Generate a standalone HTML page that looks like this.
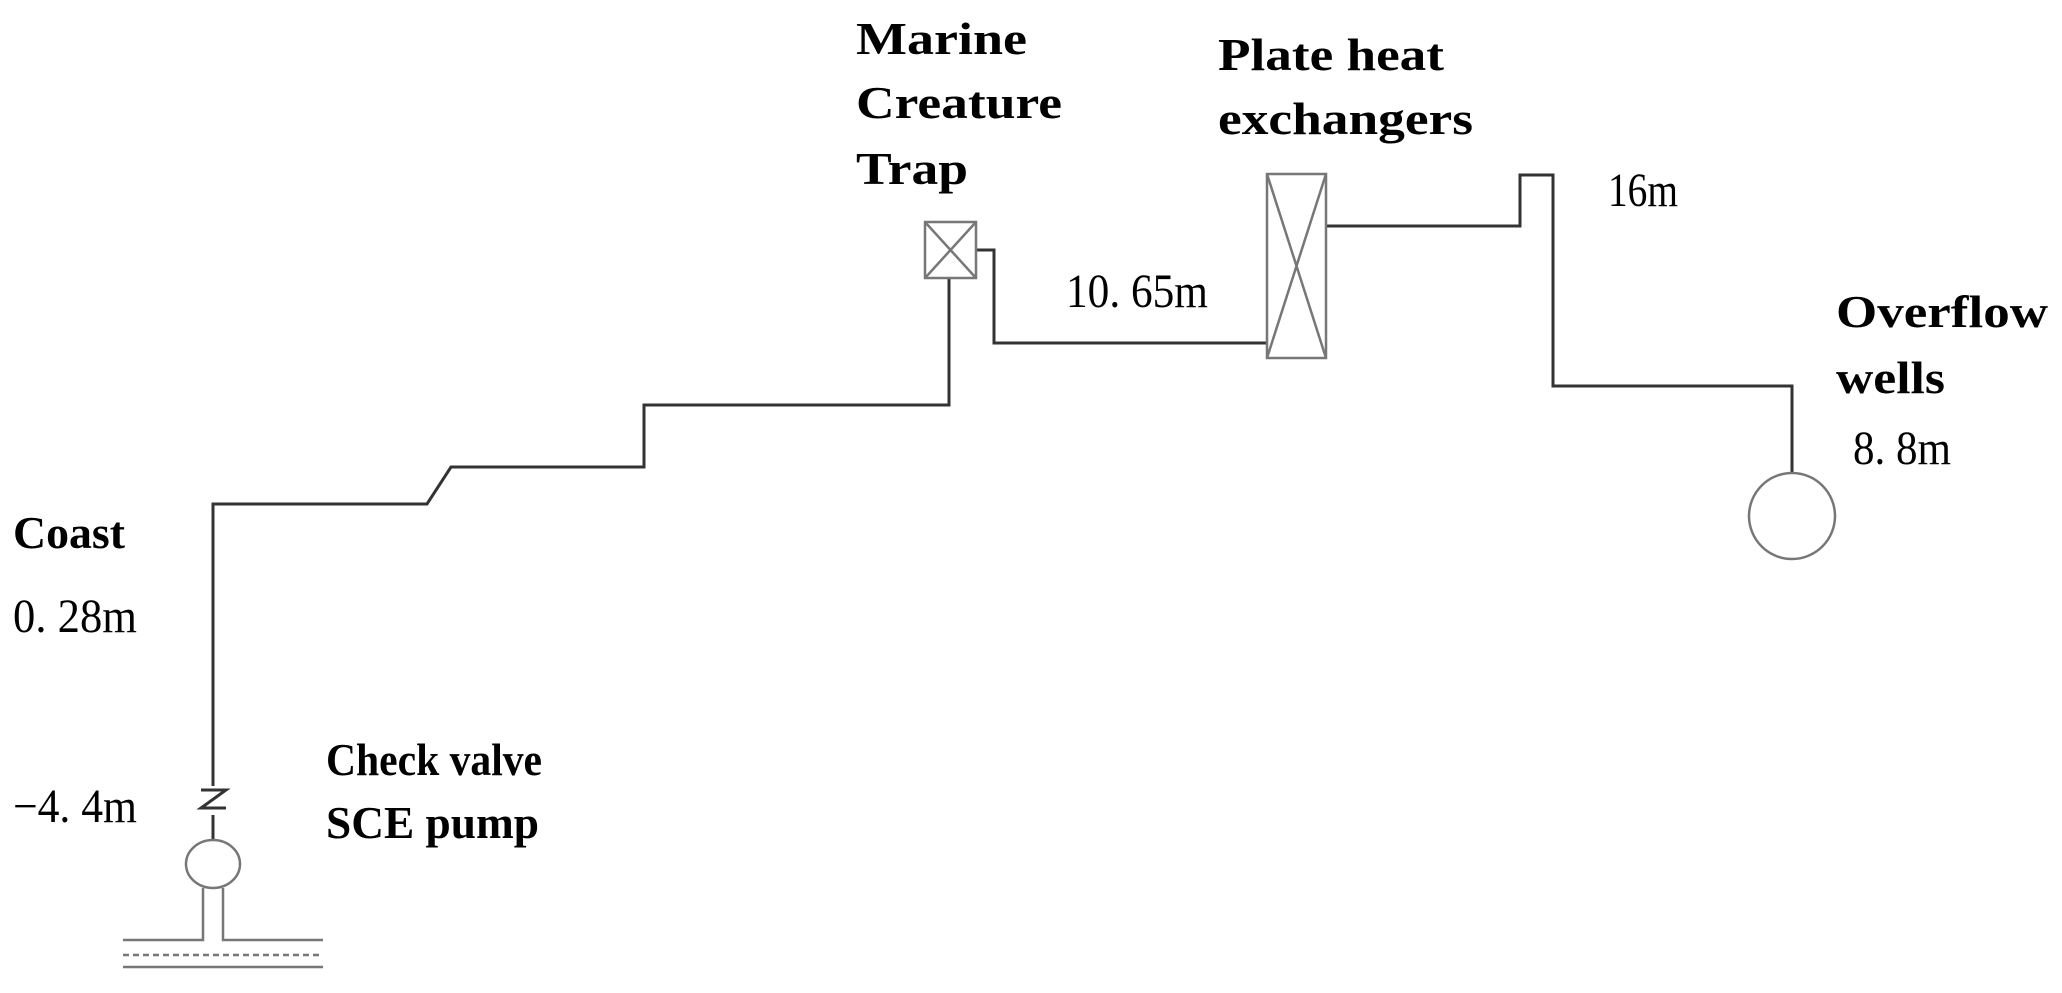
<!DOCTYPE html>
<html><head><meta charset="utf-8"><style>
html,body{margin:0;padding:0;background:#fff;}
svg{display:block}
.b{font-family:"Liberation Serif",serif;font-weight:bold;font-size:46px;fill:#000}
.n{font-family:"Liberation Serif",serif;font-size:48px;fill:#000}
</style></head><body>
<svg width="2062" height="993" viewBox="0 0 2062 993" xmlns="http://www.w3.org/2000/svg">
<g fill="none" stroke="#333" stroke-width="3">
<polyline points="213,786 213,504 427,504 451,467 644,467 644,405 949,405 949,278"/>
<polyline points="976,250 994,250 994,343 1267,343"/>
<polyline points="1326,226 1520,226 1520,175 1553,175 1553,386 1792,386 1792,473"/>
<line x1="213" y1="815" x2="213" y2="840"/>
<polyline points="201,790 226,790 201,808 226,808"/>
</g>
<g fill="none" stroke="#777" stroke-width="2.5">
<rect x="925" y="222" width="51" height="56"/>
<line x1="925" y1="222" x2="976" y2="278"/><line x1="976" y1="222" x2="925" y2="278"/>
<rect x="1267" y="174" width="59" height="184"/>
<line x1="1267" y1="174" x2="1326" y2="358"/><line x1="1326" y1="174" x2="1267" y2="358"/>
<ellipse cx="1792" cy="516" rx="43" ry="43"/>
<ellipse cx="213" cy="864" rx="27" ry="24"/>
<polyline points="203,888 203,940 123,940"/>
<polyline points="223,888 223,940 323,940"/>
<line x1="123" y1="955" x2="323" y2="955" stroke-dasharray="6,4"/>
<line x1="123" y1="967" x2="323" y2="967"/>
</g>
<g lengthAdjust="spacingAndGlyphs">
<text class="b" x="856" y="54" textLength="171" lengthAdjust="spacingAndGlyphs">Marine</text>
<text class="b" x="856" y="118" textLength="206" lengthAdjust="spacingAndGlyphs">Creature</text>
<text class="b" x="856" y="184" textLength="112" lengthAdjust="spacingAndGlyphs">Trap</text>
<text class="b" x="1218" y="70" textLength="226" lengthAdjust="spacingAndGlyphs">Plate heat</text>
<text class="b" x="1218" y="134" textLength="255" lengthAdjust="spacingAndGlyphs">exchangers</text>
<text class="b" x="1836" y="327" textLength="212" lengthAdjust="spacingAndGlyphs">Overflow</text>
<text class="b" x="1836" y="393" textLength="109" lengthAdjust="spacingAndGlyphs">wells</text>
<text class="b" x="13" y="548" textLength="112" lengthAdjust="spacingAndGlyphs">Coast</text>
<text class="b" x="326" y="775" textLength="216" lengthAdjust="spacingAndGlyphs">Check valve</text>
<text class="b" x="326" y="838" textLength="213" lengthAdjust="spacingAndGlyphs">SCE pump</text>
<text class="n" x="1066" y="307" textLength="142" lengthAdjust="spacingAndGlyphs">10. 65m</text>
<text class="n" x="1608" y="206" textLength="70" lengthAdjust="spacingAndGlyphs">16m</text>
<text class="n" x="1853" y="464" textLength="98" lengthAdjust="spacingAndGlyphs">8. 8m</text>
<text class="n" x="13" y="632" textLength="124" lengthAdjust="spacingAndGlyphs">0. 28m</text>
<text class="n" x="13" y="822" textLength="124" lengthAdjust="spacingAndGlyphs">−4. 4m</text>
</g>
</svg>
</body></html>
